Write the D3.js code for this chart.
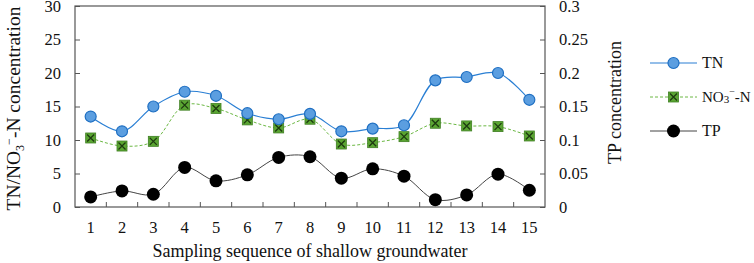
<!DOCTYPE html>
<html>
<head>
    <script src="https://d3js.org/d3.v7.min.js"></script>
    <style>
        body { margin: 0; background: #fff; }
        svg text { font-family: "Liberation Serif", "Times New Roman", Times, "DejaVu Serif", serif; fill: #111; }
    </style>
</head>
<body>

<script>
const samples = d3.range(1, 16);
const tnValues = [13.5, 11.3, 15.0, 17.2, 16.6, 14.0, 13.1, 13.9, 11.3, 11.7, 12.2, 18.9, 19.4, 20.0, 16.0];
const no3Values = [10.3, 9.1, 9.8, 15.2, 14.7, 13.0, 11.8, 13.1, 9.4, 9.6, 10.5, 12.5, 12.1, 12.0, 10.6];
const tpValues = [0.015, 0.024, 0.019, 0.059, 0.039, 0.048, 0.074, 0.075, 0.043, 0.057, 0.046, 0.011, 0.018, 0.049, 0.025];
const leftTicks = [0, 5, 10, 15, 20, 25, 30];
const rightTicks = [0, 0.05, 0.1, 0.15, 0.2, 0.25, 0.3];

const margin = { top: 6, right: 209, bottom: 56, left: 75 };
const width = 754 - margin.left - margin.right;
const height = 263 - margin.top - margin.bottom;

const svg = d3.select('body')
    .append('svg')
    .attr('width', 754)
    .attr('height', 263)
    .append('g')
    .attr('transform', `translate(${margin.left},${margin.top})`);

const xScale = d3.scaleBand()
    .domain(samples)
    .range([0, width])
    .padding(0);

const yLeft = d3.scaleLinear().domain([0, 30]).range([height, 0]);
const yRight = d3.scaleLinear().domain([0, 0.3]).range([height, 0]);

const axisColor = '#555';

// frame
svg.append('rect')
    .attr('width', width)
    .attr('height', height)
    .attr('fill', 'none')
    .attr('stroke', axisColor)
    .attr('stroke-width', 1.2);

// bottom axis: ticks between categories, pointing inward
const xAxis = svg.append('g')
    .attr('transform', `translate(0, ${height})`);
xAxis.selectAll('line')
    .data(samples.slice(1))
    .enter()
    .append('line')
    .attr('x1', d => xScale(d))
    .attr('x2', d => xScale(d))
    .attr('y1', 0)
    .attr('y2', -5)
    .attr('stroke', axisColor);
xAxis.selectAll('text')
    .data(samples)
    .enter()
    .append('text')
    .attr('x', d => xScale(d) + xScale.bandwidth() / 2)
    .attr('y', 26)
    .attr('text-anchor', 'middle')
    .attr('font-size', 16.5)
    .text(d => d);

// left axis
const leftAxis = d3.axisLeft(yLeft).tickValues(leftTicks).tickSize(-5).tickPadding(14);
const gl = svg.append('g').call(leftAxis);
gl.attr('font-family', null);
gl.select('.domain').remove();
gl.selectAll('line').attr('stroke', axisColor);
gl.selectAll('text').attr('font-size', 16.5).attr('fill', '#111');

// right axis
const rightAxis = d3.axisRight(yRight).tickValues(rightTicks).tickSize(-5).tickPadding(14)
    .tickFormat(d => d3.format('~g')(d));
const gr = svg.append('g').attr('transform', `translate(${width},0)`).call(rightAxis);
gr.attr('font-family', null);
gr.select('.domain').remove();
gr.selectAll('line').attr('stroke', axisColor);
gr.selectAll('text').attr('font-size', 16.5).attr('fill', '#111');

// axis titles
svg.append('text')
    .attr('x', width / 2)
    .attr('y', height + 50)
    .attr('text-anchor', 'middle')
    .attr('font-size', 18)
    .text('Sampling sequence of shallow groundwater');

const lt = svg.append('text')
    .attr('transform', `translate(${-55}, ${height / 2 + 2}) rotate(-90)`)
    .attr('text-anchor', 'middle')
    .attr('font-size', 19.5);
lt.append('tspan').text('TN/NO');
lt.append('tspan').attr('font-size', 12).attr('dy', 4).text('3');
lt.append('tspan').attr('font-size', 12).attr('dy', -11).text('\u2212');
lt.append('tspan').attr('dy', 7).text('-N concentration');

svg.append('text')
    .attr('transform', `translate(${width + 76}, ${height / 2 - 4}) rotate(-90)`)
    .attr('text-anchor', 'middle')
    .attr('font-size', 18)
    .text('TP concentration');

const cx = d => xScale(d) + xScale.bandwidth() / 2;
const curve = d3.curveCatmullRom.alpha(0.5);

// TP
const tpLine = d3.line().x((d, i) => cx(samples[i])).y(d => yRight(d)).curve(curve);
svg.append('path').datum(tpValues)
    .attr('d', tpLine).attr('fill', 'none').attr('stroke', '#444').attr('stroke-width', 1);
svg.selectAll('circle.tp').data(tpValues).enter().append('circle')
    .attr('class', 'tp')
    .attr('cx', (d, i) => cx(samples[i])).attr('cy', d => yRight(d))
    .attr('r', 6.5).attr('fill', '#000');

// NO3
const no3Line = d3.line().x((d, i) => cx(samples[i])).y(d => yLeft(d)).curve(curve);
svg.append('path').datum(no3Values)
    .attr('d', no3Line).attr('fill', 'none').attr('stroke', '#6cb844')
    .attr('stroke-width', 1).attr('stroke-dasharray', '3,2');
function drawCross(g, x, y) {
    g.append('rect').attr('x', x - 5).attr('y', y - 5).attr('width', 10).attr('height', 10)
        .attr('fill', '#5aa532').attr('stroke', '#3f7f22').attr('stroke-width', 0.8);
    g.append('path').attr('d', `M${x - 3.5},${y - 3.5}L${x + 3.5},${y + 3.5}M${x - 3.5},${y + 3.5}L${x + 3.5},${y - 3.5}`)
        .attr('stroke', '#1d3a10').attr('stroke-width', 1.3);
}
const no3Marks = svg.append('g');
no3Values.forEach((d, i) => drawCross(no3Marks, cx(samples[i]), yLeft(d)));

// TN
const tnLine = d3.line().x((d, i) => cx(samples[i])).y(d => yLeft(d)).curve(curve);
svg.append('path').datum(tnValues)
    .attr('d', tnLine).attr('fill', 'none').attr('stroke', '#2a7fd4').attr('stroke-width', 1.2);
svg.selectAll('circle.tn').data(tnValues).enter().append('circle')
    .attr('class', 'tn')
    .attr('cx', (d, i) => cx(samples[i])).attr('cy', d => yLeft(d))
    .attr('r', 5.5).attr('fill', '#5b9ee0').attr('stroke', '#1f6fc2').attr('stroke-width', 1.2);

// legend
const legend = svg.append('g').attr('transform', `translate(${width + 105}, 0)`);
const lx0 = 0, lx1 = 47, lm = 23.5;
legend.append('line').attr('x1', lx0).attr('x2', lx1).attr('y1', 57).attr('y2', 57)
    .attr('stroke', '#2a7fd4').attr('stroke-width', 1.2);
legend.append('circle').attr('cx', lm).attr('cy', 57).attr('r', 5.5)
    .attr('fill', '#5b9ee0').attr('stroke', '#1f6fc2').attr('stroke-width', 1.2);
legend.append('text').attr('x', 52).attr('y', 62).attr('font-size', 16).text('TN');

legend.append('line').attr('x1', lx0).attr('x2', lx1).attr('y1', 91).attr('y2', 91)
    .attr('stroke', '#6cb844').attr('stroke-dasharray', '3,2');
drawCross(legend, lm, 91);
const nt = legend.append('text').attr('x', 52).attr('y', 96).attr('font-size', 15);
nt.append('tspan').text('NO');
nt.append('tspan').attr('font-size', 11).attr('dy', 1).text('3');
nt.append('tspan').attr('font-size', 10).attr('dy', -8).text('\u2212');
nt.append('tspan').attr('dy', 7).text('-N');

legend.append('line').attr('x1', lx0).attr('x2', lx1).attr('y1', 125).attr('y2', 125)
    .attr('stroke', '#444');
legend.append('circle').attr('cx', lm).attr('cy', 125).attr('r', 6.5).attr('fill', '#000');
legend.append('text').attr('x', 52).attr('y', 130).attr('font-size', 16).text('TP');
</script>

</body>
</html>
